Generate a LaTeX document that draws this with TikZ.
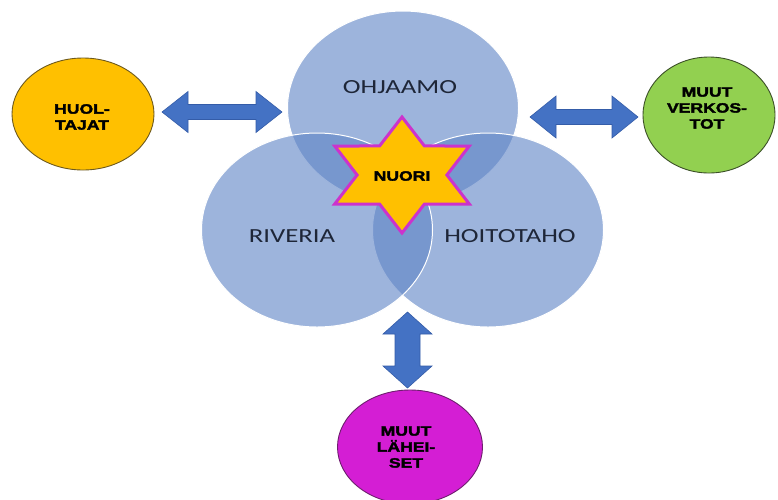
\documentclass[tikz,border=0pt]{standalone}
\usepackage{fontspec}
\usetikzlibrary{shapes.geometric}
\newfontfamily\vennfont[FakeStretch=1.34]{Carlito}
\newfontfamily\heavyfont[FakeStretch=1.3,FakeBold=2.5]{Liberation Sans Bold}
\definecolor{venn}{RGB}{97,134,199}
\definecolor{vtext}{RGB}{30,38,56}
\definecolor{abl}{RGB}{68,114,196}
\definecolor{ablo}{RGB}{52,92,168}
\definecolor{gold}{RGB}{255,192,0}
\definecolor{goldo}{RGB}{110,90,30}
\definecolor{lgreen}{RGB}{146,208,80}
\definecolor{greeno}{RGB}{60,80,40}
\definecolor{magf}{RGB}{212,30,212}
\definecolor{mago}{RGB}{110,30,110}
\definecolor{starb}{RGB}{204,51,204}
\tikzset{
  vennell/.style={fill=venn, fill opacity=0.62, draw=white, line width=1pt},
  vennlbl/.style={font=\vennfont\fontsize{20}{24}\selectfont, text=vtext, inner sep=0pt},
  sideell/.style={ellipse, draw=#1, line width=0.9pt, inner sep=0pt},
  heavylbl/.style={font=\heavyfont\fontsize{13.5}{16}\selectfont, align=center, text=black, inner sep=0pt},
  blockarrow/.style={fill=abl, draw=ablo, line width=0.6pt, line join=miter},
  starshape/.style={fill=gold, draw=starb, line width=3pt, line join=miter}
}
\newcommand\HDArrow[6]{% x1 x2 y shaft-half head-half head-length
  \path[blockarrow] ({#1},{#3}) -- ({#1+#6},{#3-#5}) -- ({#1+#6},{#3-#4}) -- ({#2-#6},{#3-#4})
    -- ({#2-#6},{#3-#5}) -- ({#2},{#3}) -- ({#2-#6},{#3+#5}) -- ({#2-#6},{#3+#4})
    -- ({#1+#6},{#3+#4}) -- ({#1+#6},{#3+#5}) -- cycle;}
\newcommand\VDArrow[6]{% y1 y2 x shaft-half head-half head-length
  \path[blockarrow] ({#3},{#1}) -- ({#3-#5},{#1+#6}) -- ({#3-#4},{#1+#6}) -- ({#3-#4},{#2-#6})
    -- ({#3-#5},{#2-#6}) -- ({#3},{#2}) -- ({#3+#5},{#2-#6}) -- ({#3+#4},{#2-#6})
    -- ({#3+#4},{#1+#6}) -- ({#3+#5},{#1+#6}) -- cycle;}
\begin{document}
\begin{tikzpicture}[x=1pt,y=-1pt]
\useasboundingbox (0,0) rectangle (778,499);
\fill[white] (0,0) rectangle (778,499);

% Venn ellipses
\path[vennell] (403,108) ellipse [x radius=115.5, y radius=97];
\path[vennell] (488,230) ellipse [x radius=115.5, y radius=97];
\path[vennell] (317,230) ellipse [x radius=115.5, y radius=97];

\node[vennlbl] (ohj) at (400,87) {OHJAAMO};
\node[vennlbl] (riv) at (292,236) {RIVERIA};
\node[vennlbl] (hoi) at (510,236) {HOITOTAHO};

% star
\begin{scope}[shift={(402,175)}, xscale=1.34]
  \path[starshape] (90:58) -- (120:33.5) -- (150:58) -- (180:33.5) -- (210:58) -- (240:33.5)
    -- (270:58) -- (300:33.5) -- (330:58) -- (0:33.5) -- (30:58) -- (60:33.5) -- cycle;
\end{scope}
\node[heavylbl] (nuori) at (402,176) {NUORI};

% side ellipses
\node[sideell=goldo, fill=gold, minimum width=142pt, minimum height=112pt] (huol) at (83,114) {};
\node[heavylbl] (huoltxt) at (82,117) {HUOL-\\TAJAT};
\node[sideell=greeno, fill=lgreen, minimum width=132pt, minimum height=116pt] (verk) at (709,115) {};
\node[heavylbl] (verktxt) at (707,108) {MUUT\\VERKOS-\\TOT};
\node[sideell=mago, fill=magf, minimum width=145pt, minimum height=114pt] (lah) at (410,447) {};
\node[heavylbl] (lahtxt) at (406,447) {MUUT\\LÄHEI-\\SET};

% block arrows
\HDArrow{162}{282}{112}{7.5}{20.5}{26}
\HDArrow{530}{638}{117}{7.5}{21}{26}
\VDArrow{312}{388}{407.5}{12.5}{24.5}{22}
\end{tikzpicture}
\end{document}
